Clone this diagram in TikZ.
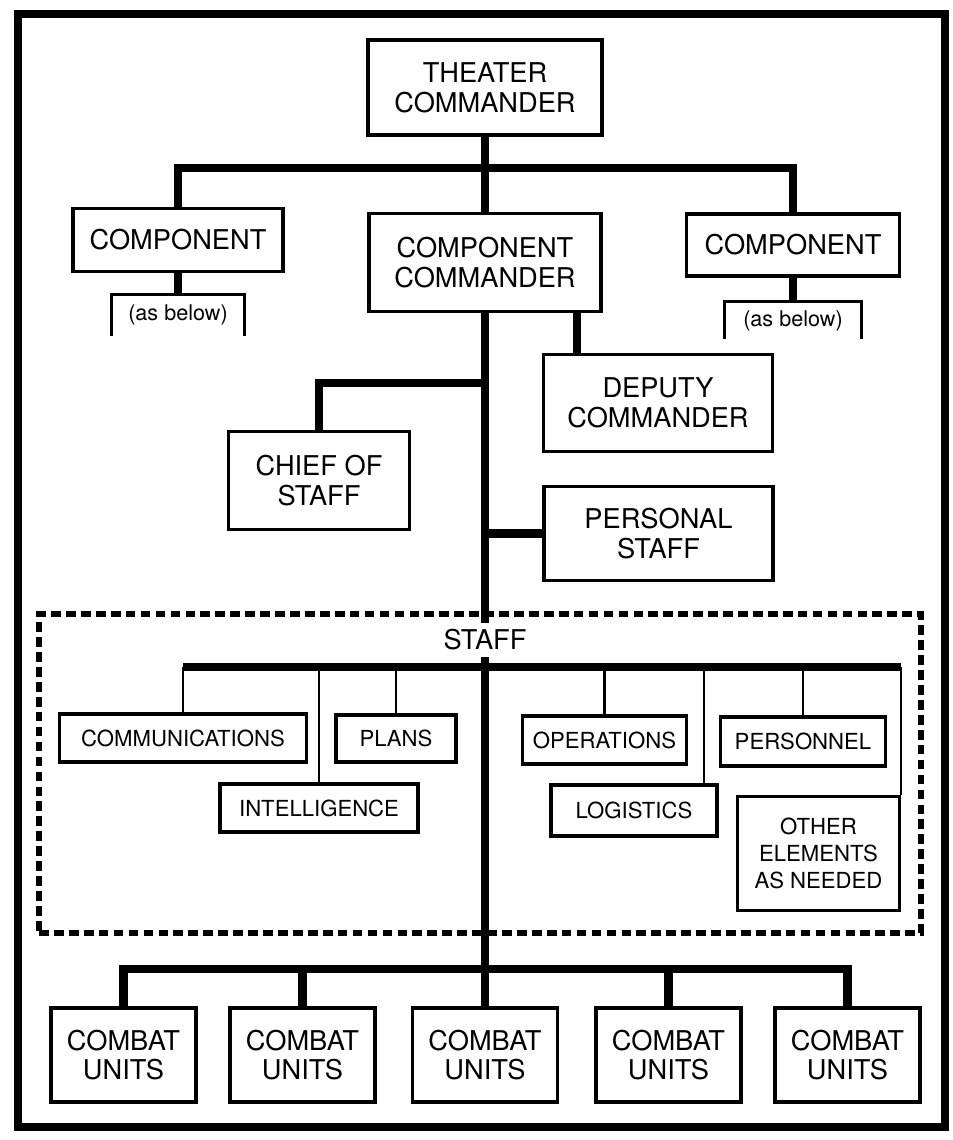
\documentclass[tikz,border=0pt]{standalone}
\usepackage{fontspec}
\setmainfont{TeX Gyre Heros}
\usetikzlibrary{positioning, calc}
\tikzset{
post/.style={draw, line width=2.2pt, align=center, inner sep=0pt, font=\fontsize{15.5}{17}\selectfont}, % boxes of the chain of command
section/.style={post, font=\fontsize{12.6}{15.5}\selectfont}, % boxes inside the staff
trunk/.style={line width=5pt}, % heavy lines of command
twig/.style={line width=1.2pt}, % light lines to the staff sections
}
\tikzset{
  combat/.style={post, minimum width=2.9cm, minimum height=1.88cm},
  asbelow/.style={inner sep=0pt, font=\fontsize{12.3}{14}\selectfont}
}

\begin{document}
\begin{tikzpicture}[x=0.02cm, y=-0.02cm]
      \useasboundingbox (0,0) rectangle (953,1140);
      \draw[line width=4pt] (18,14) rectangle (945,1127);

      % chain of command
      \node[post, minimum width=4.68cm, minimum height=1.9cm] (theater) at (485,87.5) {THEATER\\COMMANDER};
      \node[post, minimum width=4.2cm, minimum height=1.26cm] (compL) at (178,240) {COMPONENT};
      \node[post, minimum width=4.64cm, minimum height=1.96cm] (compcmd) at (485,262.5) {COMPONENT\\COMMANDER};
      \node[post, minimum width=4.26cm, minimum height=1.24cm] (compR) at (793,245) {COMPONENT};
      \node[asbelow, minimum width=2.66cm, minimum height=0.82cm] (asL) at (178,315) {(as below)};
      \node[asbelow, minimum width=2.72cm, minimum height=0.74cm] (asR) at (793,320.5) {(as below)};
      \node[post, minimum width=4.58cm, minimum height=1.94cm] (deputy) at (658,403) {DEPUTY\\COMMANDER};
      \node[post, minimum width=3.62cm, minimum height=1.96cm] (chief) at (319,480.5) {CHIEF OF\\STAFF};
      \node[post, minimum width=4.58cm, minimum height=1.88cm] (personal) at (658.5,533.5) {PERSONAL\\STAFF};

      % staff
      \node[draw, line width=3.2pt, dash pattern=on 5.5pt off 3pt, minimum width=17.64cm, minimum height=6.38cm] (staffbox) at (480,773.5) {};
      \node[section, minimum width=4.94cm, minimum height=0.96cm] (comm) at (183,738) {COMMUNICATIONS};
      \node[section, minimum width=3.96cm, minimum height=0.96cm] (intel) at (319,808) {INTELLIGENCE};
      \node[section, minimum width=2.4cm, minimum height=0.94cm] (plans) at (396,738.5) {PLANS};
      \node[section, minimum width=3.28cm, minimum height=0.96cm] (ops) at (604.5,740) {OPERATIONS};
      \node[section, minimum width=3.32cm, minimum height=1.02cm] (logi) at (634,810.5) {LOGISTICS};
      \node[section, minimum width=3.3cm, minimum height=0.98cm] (pers) at (803,741.5) {PERSONNEL};
      \node[section, minimum width=3.24cm, minimum height=2.28cm] (other) at (818.5,853.5) {OTHER\\ELEMENTS\\AS NEEDED};

      % combat units
      \node[combat] (cu1) at (123.5,1055) {COMBAT\\UNITS};
      \node[combat] (cu2) at (302.5,1055) {COMBAT\\UNITS};
      \node[combat] (cu3) at (485,1055) {COMBAT\\UNITS};
      \node[combat] (cu4) at (668.5,1055) {COMBAT\\UNITS};
      \node[combat] (cu5) at (847.5,1055) {COMBAT\\UNITS};

      \coordinate (tbar) at (485,168);
      \coordinate (cbar) at (485,383);
      \coordinate (sbar) at (485,667);
      \coordinate (ubar) at (485,969);

      \draw[trunk] (theater.south) -- (tbar)
      (compL.north) |- (tbar) -| (compR.north)
      (compcmd.north) -- (tbar)
      (compL.south) -- (asL.north)
      (compR.south) -- (asR.north)
      (compcmd.south) -- (cu3.north)
      ([xshift=-1.62cm]deputy.north) -- ([xshift=-1.62cm]deputy.north |- compcmd.south)
      (chief.north) |- (cbar)
      (personal.west) -- (personal.west -| compcmd.south)
      (comm.north |- sbar) -- (other.north east |- sbar)
      (cu1.north) |- (ubar) -| (cu5.north)
      (cu2.north) -- (cu2.north |- ubar)
      (cu4.north) -- (cu4.north |- ubar);
      \draw[line width=1.6pt] (asL.south west) -- (asL.north west) -- (asL.north east) -- (asL.south east)
      (asR.south west) -- (asR.north west) -- (asR.north east) -- (asR.south east);
      \draw[twig] (comm.north) -- (comm.north |- sbar)
      (intel.north) -- (intel.north |- sbar)
      (plans.north) -- (plans.north |- sbar)
      (ops.north) -- (ops.north |- sbar)
      ([xshift=1.4cm]logi.north) -- ([xshift=1.4cm]logi.north |- sbar)
      (pers.north) -- (pers.north |- sbar)
      (other.north east) -- (other.north east |- sbar);

      \node[fill=white, inner xsep=2pt, inner ysep=4pt, font=\fontsize{15.5}{17}\selectfont] (stafflabel) at (485,640) {STAFF};
    \end{tikzpicture}
\end{document}
